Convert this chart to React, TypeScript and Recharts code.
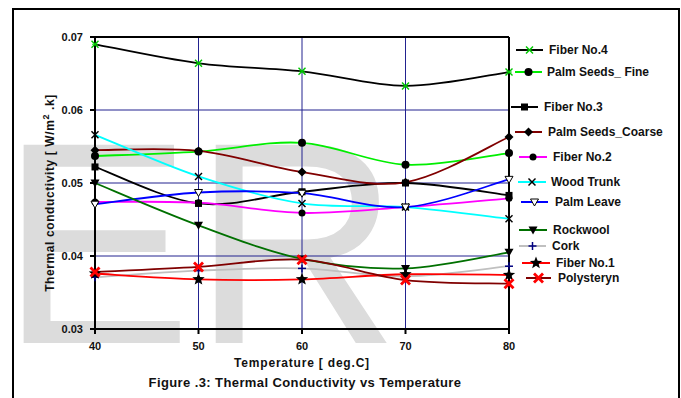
import React from "react";
import {
  LineChart,
  Line,
  XAxis,
  YAxis,
  CartesianGrid,
  ReferenceLine,
  Legend,
  Label,
} from "recharts";

// ---------- data ----------
const temperatures = [40, 50, 60, 70, 80];
const xTicks = [40, 50, 60, 70, 80];
const yTicks = [0.03, 0.04, 0.05, 0.06, 0.07];

const fiberNo4 = [0.069, 0.0664, 0.0653, 0.0633, 0.0652];
const palmSeedsFine = [0.0537, 0.0543, 0.0555, 0.0525, 0.0541];
const fiberNo3 = [0.0522, 0.0472, 0.0488, 0.05, 0.0483];
const palmSeedsCoarse = [0.0545, 0.0544, 0.0515, 0.0501, 0.0563];
const fiberNo2 = [0.0474, 0.0473, 0.0459, 0.0467, 0.0479];
const woodTrunk = [0.0566, 0.0509, 0.0472, 0.0467, 0.0451];
const palmLeave = [0.0471, 0.0487, 0.0486, 0.0467, 0.0505];
const rockwool = [0.05, 0.0442, 0.0396, 0.0383, 0.0405];
const cork = [0.0371, 0.038, 0.0383, 0.0372, 0.0386];
const fiberNo1 = [0.0376, 0.0368, 0.0368, 0.0375, 0.0374];
const polysteryn = [0.0378, 0.0385, 0.0395, 0.0367, 0.0362];

const seriesNames = [
  "Fiber No.4",
  "Palm Seeds_ Fine",
  "Fiber No.3",
  "Palm Seeds_Coarse",
  "Fiber No.2",
  "Wood Trunk",
  "Palm Leave",
  "Rockwool",
  "Cork",
  "Fiber No.1",
  "Polysteryn",
];
const seriesValues = [
  fiberNo4,
  palmSeedsFine,
  fiberNo3,
  palmSeedsCoarse,
  fiberNo2,
  woodTrunk,
  palmLeave,
  rockwool,
  cork,
  fiberNo1,
  polysteryn,
];

// ---------- styles ----------
const seriesStyles = [
  { color: "#000000", marker: "xgreen" },
  { color: "#00ee00", marker: "bigcircle" },
  { color: "#000000", marker: "square" },
  { color: "#800000", marker: "diamond" },
  { color: "#ff00ff", marker: "circle" },
  { color: "#00ffff", marker: "xblack" },
  { color: "#0000ff", marker: "triOpen" },
  { color: "#007000", marker: "triFill" },
  { color: "#c0c0c0", marker: "plus" },
  { color: "#ff0000", marker: "star" },
  { color: "#800000", marker: "xred" },
];

// legend layout: [lineStartX, lineEndX, y, textX]
const legendLayout = [
  [516, 543, 50, 549],
  [515, 542, 72, 547],
  [511, 538, 107, 544],
  [515, 542, 132, 548],
  [519, 547, 157, 553],
  [518, 546, 182, 551],
  [521, 548, 202, 555],
  [519, 547, 230, 553],
  [519, 546, 246, 552],
  [522, 550, 263, 556],
  [526, 551, 278, 558],
];

const FONT = "Arial, 'Liberation Sans', sans-serif";

const data = temperatures.map((t, i) => {
  const row: any = { t };
  seriesNames.forEach((n, k) => {
    row[n] = seriesValues[k][i];
  });
  return row;
});

// Excel-like smoothed curve (Catmull-Rom as cubic Bezier)
const excelCurve: any = (context: any) => {
  let pts: number[][] = [];
  return {
    areaStart() {},
    areaEnd() {},
    lineStart() {
      pts = [];
    },
    point(x: number, y: number) {
      pts.push([+x, +y]);
    },
    lineEnd() {
      const n = pts.length;
      if (!n) return;
      context.moveTo(pts[0][0], pts[0][1]);
      for (let i = 0; i < n - 1; i++) {
        const p0 = pts[Math.max(0, i - 1)];
        const p1 = pts[i];
        const p2 = pts[i + 1];
        const p3 = pts[Math.min(n - 1, i + 2)];
        context.bezierCurveTo(
          p1[0] + (p2[0] - p0[0]) / 6,
          p1[1] + (p2[1] - p0[1]) / 6,
          p2[0] - (p3[0] - p1[0]) / 6,
          p2[1] - (p3[1] - p1[1]) / 6,
          p2[0],
          p2[1]
        );
      }
    },
  };
};

function starPoints(cx: number, cy: number, ro: number, ri: number) {
  const pts: string[] = [];
  for (let i = 0; i < 10; i++) {
    const r = i % 2 === 0 ? ro : ri;
    const a = -Math.PI / 2 + (i * Math.PI) / 5;
    pts.push(`${cx + r * Math.cos(a)},${cy + r * Math.sin(a)}`);
  }
  return pts.join(" ");
}

function Marker({ kind, cx, cy }: { kind: string; cx: number; cy: number }) {
  if (cx == null || cy == null) return null;
  switch (kind) {
    case "xgreen":
      return (
        <g stroke="#00c800" strokeWidth={1.4}>
          <line x1={cx - 3.5} y1={cy - 3.5} x2={cx + 3.5} y2={cy + 3.5} />
          <line x1={cx - 3.5} y1={cy + 3.5} x2={cx + 3.5} y2={cy - 3.5} />
          <line x1={cx - 3} y1={cy} x2={cx + 3} y2={cy} strokeWidth={0.8} />
        </g>
      );
    case "bigcircle":
      return <circle cx={cx} cy={cy} r={4} fill="#000" />;
    case "circle":
      return <circle cx={cx} cy={cy} r={3.5} fill="#000" />;
    case "square":
      return <rect x={cx - 3.5} y={cy - 3.5} width={7} height={7} fill="#000" />;
    case "diamond":
      return (
        <polygon
          points={`${cx},${cy - 4.5} ${cx + 4.5},${cy} ${cx},${cy + 4.5} ${cx - 4.5},${cy}`}
          fill="#000"
        />
      );
    case "xblack":
      return (
        <g stroke="#000" strokeWidth={1.5}>
          <line x1={cx - 3.5} y1={cy - 3.5} x2={cx + 3.5} y2={cy + 3.5} />
          <line x1={cx - 3.5} y1={cy + 3.5} x2={cx + 3.5} y2={cy - 3.5} />
        </g>
      );
    case "triOpen":
      return (
        <polygon
          points={`${cx - 4},${cy - 3} ${cx + 4},${cy - 3} ${cx},${cy + 4}`}
          fill="#fff"
          stroke="#000"
          strokeWidth={1}
        />
      );
    case "triFill":
      return (
        <polygon points={`${cx - 4.5},${cy - 3.5} ${cx + 4.5},${cy - 3.5} ${cx},${cy + 4.5}`} fill="#000" />
      );
    case "plus":
      return (
        <g stroke="#000080" strokeWidth={1.5}>
          <line x1={cx - 4} y1={cy} x2={cx + 4} y2={cy} />
          <line x1={cx} y1={cy - 4} x2={cx} y2={cy + 4} />
        </g>
      );
    case "star":
      return <polygon points={starPoints(cx, cy, 6.5, 2.8)} fill="#000" />;
    case "xred":
      return (
        <g stroke="#ff0000" strokeWidth={2.8}>
          <line x1={cx - 4.5} y1={cy - 4.5} x2={cx + 4.5} y2={cy + 4.5} />
          <line x1={cx - 4.5} y1={cy + 4.5} x2={cx + 4.5} y2={cy - 4.5} />
        </g>
      );
    default:
      return null;
  }
}

const renderLegend = () => (
  <svg width={681} height={398} style={{ position: "absolute", left: 0, top: 0 }}>
    {seriesNames.map((name, i) => {
      const [x1, x2, y, tx] = legendLayout[i];
      const st = seriesStyles[i];
      return (
        <g key={name}>
          <line x1={x1} y1={y} x2={x2} y2={y} stroke={st.color} strokeWidth={2} />
          <Marker kind={st.marker} cx={(x1 + x2) / 2} cy={y} />
          <text
            x={tx}
            y={y}
            dy="0.35em"
            fontSize={12}
            fontWeight="bold"
            fontFamily={FONT}
            fill="#111"
          >
            {name}
          </text>
        </g>
      );
    })}
  </svg>
);

export default function App() {
  return (
    <div style={{ position: "absolute", left: 0, top: 0, width: 681, height: 398, background: "#fff" }}>
      <svg width={681} height={398} style={{ position: "absolute", left: 0, top: 0 }}>
        <text x={0} y={343} fontSize={288} fontFamily={FONT} fill="#dcdcdc">
          ER
        </text>
      </svg>
      <div style={{ position: "absolute", left: 0, top: 0 }}>
        <LineChart
          width={681}
          height={398}
          data={data}
          margin={{ top: 37, right: 172, bottom: 49, left: 55 }}
        >
          <CartesianGrid stroke="#22228f" strokeWidth={1} />
          <XAxis
            dataKey="t"
            type="number"
            domain={[40, 80]}
            ticks={xTicks}
            height={20}
            tickSize={5}
            tickMargin={8}
            stroke="#000"
            strokeWidth={2}
            tick={{ fill: "#111", fontSize: 11, fontWeight: "bold", fontFamily: FONT }}
          >
            <Label
              content={() => (
                <text
                  x={302}
                  y={363}
                  dy="0.35em"
                  textAnchor="middle"
                  fontSize={12}
                  letterSpacing={0.8}
                  fontWeight="bold"
                  fontFamily={FONT}
                  fill="#111"
                >
                  Temperature [ deg.C]
                </text>
              )}
            />
          </XAxis>
          <YAxis
            type="number"
            domain={[0.03, 0.07]}
            ticks={yTicks}
            width={40}
            tickSize={5}
            tickMargin={7}
            stroke="#000"
            strokeWidth={2}
            tickFormatter={(v: number) => v.toFixed(2)}
            tick={{ fill: "#111", fontSize: 11, fontWeight: "bold", fontFamily: FONT }}
          >
            <Label
              content={() => (
                <text
                  x={50}
                  y={193}
                  dy="0.35em"
                  textAnchor="middle"
                  transform="rotate(-90 50 193)"
                  fontSize={12}
                  letterSpacing={0.6}
                  fontWeight="bold"
                  fontFamily={FONT}
                  fill="#111"
                >
                  Thermal conductivity [ W/m
                  <tspan dy="-5" fontSize={9}>
                    2
                  </tspan>
                  <tspan dy="5"> .k]</tspan>
                </text>
              )}
            />
          </YAxis>
          <ReferenceLine y={0.07} stroke="#000" strokeWidth={2} />
          <ReferenceLine x={80} stroke="#000" strokeWidth={2} />
          {seriesNames.map((name, i) => (
            <Line
              key={name}
              dataKey={name}
              type={excelCurve}
              stroke={seriesStyles[i].color}
              strokeWidth={1.8}
              isAnimationActive={false}
              activeDot={false}
              dot={(p: any) => (
                <Marker key={`${name}-${p.index}`} kind={seriesStyles[i].marker} cx={p.cx} cy={p.cy} />
              )}
            />
          ))}
          <Legend
            layout="horizontal"
            verticalAlign="middle"
            align="center"
            content={renderLegend}
            wrapperStyle={{ left: 0, top: 0, width: 681, height: 398, pointerEvents: "none" }}
          />
        </LineChart>
      </div>
      <div
        style={{
          position: "absolute",
          left: 12,
          top: 8,
          width: 668,
          height: 390,
          boxSizing: "border-box",
          border: "2px solid #000",
          borderBottom: "none",
        }}
      />
      <div
        style={{
          position: "absolute",
          left: 0,
          top: 375,
          width: 610,
          textAlign: "center",
          fontFamily: FONT,
          fontWeight: "bold",
          fontSize: 13,
          letterSpacing: 0.4,
          color: "#111",
        }}
      >
        Figure .3: Thermal Conductivity vs Temperature
      </div>
    </div>
  );
}
